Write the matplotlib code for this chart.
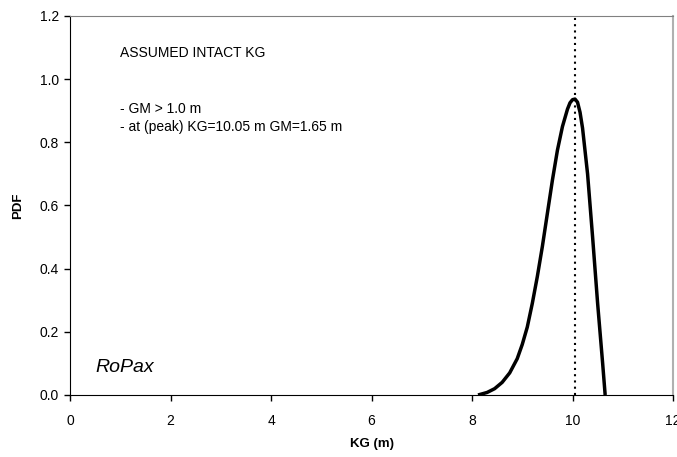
import matplotlib
matplotlib.use("Agg")
import matplotlib.pyplot as plt

plt.rcParams['font.family'] = ['Liberation Sans', 'DejaVu Sans']

kg = [8.12, 8.3, 8.45, 8.6, 8.75, 8.9, 9.0, 9.1, 9.2, 9.3, 9.4, 9.5, 9.6, 9.7,
      9.8, 9.9, 9.95, 10.0, 10.05, 10.1, 10.15, 10.2, 10.3, 10.4, 10.5, 10.6, 10.65]
pdf = [0.0, 0.008, 0.02, 0.04, 0.07, 0.115, 0.16, 0.215, 0.29, 0.375, 0.47, 0.575,
       0.68, 0.775, 0.85, 0.905, 0.925, 0.935, 0.937, 0.927, 0.895, 0.845, 0.70,
       0.50, 0.29, 0.10, 0.0]
peak_kg = 10.05
x_ticks = [0, 2, 4, 6, 8, 10, 12]
y_ticks = [0.0, 0.2, 0.4, 0.6, 0.8, 1.0, 1.2]

fig = plt.figure(figsize=(6.77, 4.57), dpi=100)
ax = fig.add_axes([70/677, 1-395/457, (673-70)/677, (395-16)/457])

ax.plot(kg, pdf, color='black', lw=2.5, solid_capstyle='butt', solid_joinstyle='round')
ax.plot([peak_kg, peak_kg], [0, 1.2], color='black', lw=1.5, linestyle=(0, (1, 2)))

ax.set_xlim(0, 12)
ax.set_ylim(0, 1.2)
ax.set_xticks(x_ticks)
ax.set_xticklabels([str(v) for v in x_ticks])
ax.set_yticks(y_ticks)
ax.set_yticklabels([f"{v:.1f}" for v in y_ticks])
ax.tick_params(axis='both', direction='out', length=4, width=1, labelsize=10, color='black')
ax.tick_params(axis='x', pad=10)
ax.tick_params(axis='y', pad=4)

ax.spines['left'].set_color('black')
ax.spines['bottom'].set_color('black')
ax.spines['top'].set_color('#808080')
ax.spines['right'].set_color('#b0b0b0')
ax.spines['right'].set_linewidth(1.5)

ax.set_xlabel('KG (m)', fontsize=9.5, fontweight='bold', labelpad=7)
ax.set_ylabel('PDF', fontsize=9.5, fontweight='bold', labelpad=11)

ax.text(1.0, 1.07, 'ASSUMED INTACT KG', fontsize=10, va='baseline')
ax.text(1.0, 0.894, '- GM > 1.0 m', fontsize=10, va='baseline')
ax.text(1.0, 0.837, '- at (peak) KG=10.05 m GM=1.65 m', fontsize=10, va='baseline')
ax.text(0.5, 0.073, 'RoPax', fontsize=14, style='italic', va='baseline')

fig.savefig('out.png', dpi=100)
